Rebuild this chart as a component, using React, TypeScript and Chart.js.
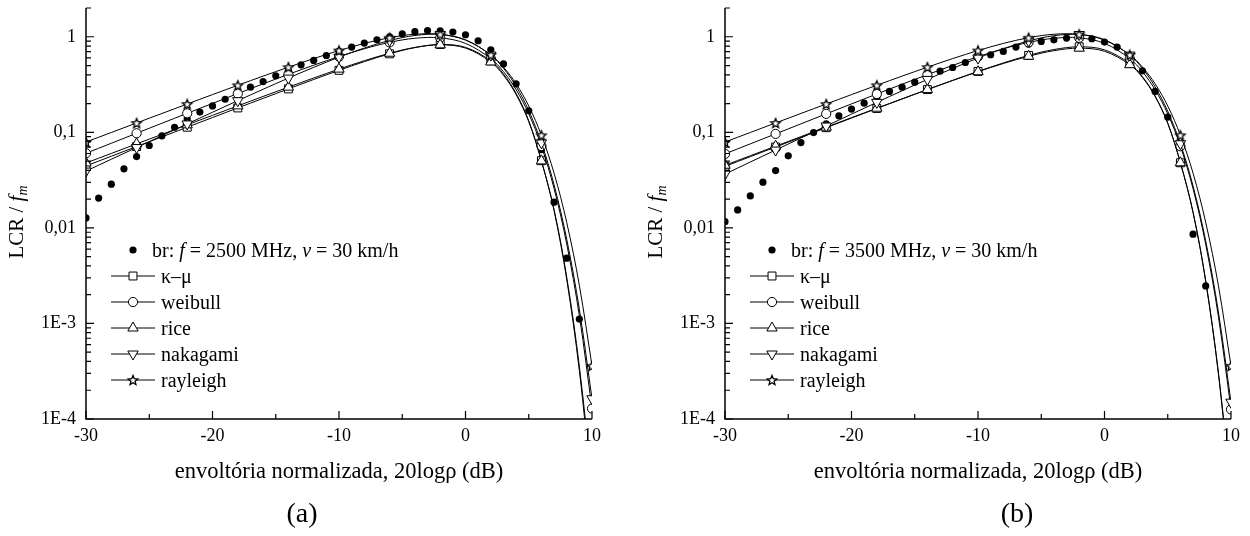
import React, { useEffect, useRef } from 'react';
import { Chart, registerables } from 'chart.js';

Chart.register(...registerables);

const FONT = '"Liberation Serif", "Times New Roman", serif';

// ---- measured data (black dots) ----
const measX2500 = [-30, -29, -28, -27, -26, -25, -24, -23, -22, -21, -20, -19, -18, -17, -16, -15, -14, -13, -12, -11, -10, -9, -8, -7, -6, -5, -4, -3, -2, -1, 0, 1, 2, 3, 4, 5, 6, 7, 8, 9];
const br2500 = [0.0127, 0.0205, 0.0287, 0.0415, 0.0558, 0.0728, 0.0919, 0.113, 0.138, 0.163, 0.189, 0.222, 0.256, 0.297, 0.34, 0.391, 0.44, 0.509, 0.565, 0.637, 0.71, 0.78, 0.859, 0.93, 1.0, 1.075, 1.13, 1.16, 1.155, 1.12, 1.05, 0.908, 0.73, 0.52, 0.322, 0.168, 0.066, 0.0186, 0.00482, 0.00111];

const measX3500 = [-30, -29, -28, -27, -26, -25, -24, -23, -22, -21, -20, -19, -18, -17, -16, -15, -14, -13, -12, -11, -10, -9, -8, -7, -6, -5, -4, -3, -2, -1, 0, 1, 2, 3, 4, 5, 6, 7, 8];
const br3500 = [0.0116, 0.0154, 0.0216, 0.0301, 0.0398, 0.0567, 0.0782, 0.0995, 0.123, 0.149, 0.175, 0.202, 0.233, 0.268, 0.297, 0.335, 0.378, 0.436, 0.477, 0.538, 0.6, 0.648, 0.702, 0.78, 0.838, 0.893, 0.93, 0.97, 0.98, 0.953, 0.88, 0.78, 0.63, 0.44, 0.268, 0.144, 0.0476, 0.0086, 0.00247];

// ---- model curves ----
const modelX = [-30, -28, -26, -24, -22, -20, -18, -16, -14, -12, -10, -8, -6, -4, -2, 0, 2, 3, 4, 5, 6, 7, 8, 9, 10];
const markerX = [-30, -26, -22, -18, -14, -10, -6, -2, 2, 6, 10];

const kappaMu2500 = [0.0445, 0.0562, 0.071, 0.0896, 0.1131, 0.1427, 0.18, 0.2265, 0.2848, 0.3572, 0.4453, 0.549, 0.663, 0.77, 0.83, 0.775, 0.56, 0.408, 0.256, 0.132, 0.0505, 0.0152, 0.0029, 0.00032, 0.000017];
const weibull2500 = [0.0604, 0.0768, 0.0978, 0.1244, 0.1581, 0.2007, 0.2544, 0.3215, 0.4042, 0.5043, 0.621, 0.7491, 0.8736, 0.9645, 0.9745, 0.8525, 0.5904, 0.4316, 0.2801, 0.1563, 0.0719, 0.02587, 0.006814, 0.001205, 0.0001285];
const rice2500 = [0.04777, 0.06012, 0.07567, 0.09521, 0.1198, 0.1506, 0.1891, 0.2372, 0.297, 0.3703, 0.4587, 0.5615, 0.6725, 0.7733, 0.8237, 0.7617, 0.5447, 0.3958, 0.2486, 0.1293, 0.05023, 0.01555, 0.00306, 0.000356, 0.0000212];
const nakagami2500 = [0.0393, 0.0523, 0.0693, 0.0922, 0.1224, 0.1622, 0.2144, 0.2822, 0.3694, 0.4788, 0.6112, 0.7617, 0.9133, 1.031, 1.0571, 0.9299, 0.6426, 0.4682, 0.3027, 0.1685, 0.0777, 0.02824, 0.007618, 0.00141, 0.0001629];
const rayleighCurve = [0.0792, 0.0996, 0.1253, 0.1575, 0.1978, 0.2482, 0.3106, 0.3874, 0.4806, 0.5911, 0.7172, 0.8516, 0.9772, 1.0622, 1.0594, 0.9221, 0.6469, 0.4815, 0.3223, 0.1886, 0.0933, 0.03736, 0.01144, 0.002508, 0.00036];

const kappaMu3500 = [0.044, 0.0556, 0.0702, 0.0886, 0.1118, 0.141, 0.1776, 0.2232, 0.28, 0.35, 0.434, 0.532, 0.638, 0.735, 0.785, 0.73, 0.525, 0.383, 0.241, 0.125, 0.048, 0.0145, 0.00275, 0.0003, 0.000016];
const weibull3500 = [0.0595, 0.0757, 0.0963, 0.1226, 0.156, 0.1983, 0.2518, 0.3187, 0.4013, 0.5016, 0.619, 0.748, 0.873, 0.9645, 0.975, 0.853, 0.59, 0.431, 0.2795, 0.1558, 0.0716, 0.0257, 0.00675, 0.00119, 0.000126];
const rice3500 = [0.0452, 0.0569, 0.0716, 0.0901, 0.1133, 0.1424, 0.1788, 0.2241, 0.2802, 0.3487, 0.4307, 0.525, 0.625, 0.715, 0.76, 0.705, 0.51, 0.375, 0.237, 0.124, 0.048, 0.0146, 0.0028, 0.00031, 0.000017];
const nakagami3500 = [0.0365, 0.0489, 0.0652, 0.0872, 0.1163, 0.1549, 0.2058, 0.2722, 0.358, 0.4665, 0.599, 0.75, 0.904, 1.026, 1.056, 0.932, 0.643, 0.466, 0.3, 0.166, 0.076, 0.0274, 0.0073, 0.00133, 0.00015];

const modelNames = ['κ–μ', 'weibull', 'rice', 'nakagami', 'rayleigh'];

// ---- axes ----
const xTicks = [-30, -20, -10, 0, 10];
const xTickLabels = ['-30', '-20', '-10', '0', '10'];
const xMinorTicks = [-25, -15, -5, 5];
const yTicks = [1e-4, 1e-3, 1e-2, 1e-1, 1];
const yTickLabels = ['1E-4', '1E-3', '0,01', '0,1', '1'];
const yMin = 1e-4;
const yMax = 2;

const xTitle = 'envoltória normalizada, 20logρ (dB)';

type MarkerKind = 'rect' | 'circle' | 'triangle' | 'triangleDown' | 'star';
const markerKinds: MarkerKind[] = ['rect', 'circle', 'triangle', 'triangleDown', 'star'];
const markerRadius: Record<MarkerKind, number> = { rect: 5.6, circle: 4.6, triangle: 6, triangleDown: 6, star: 4.9 };

function starPath(g: CanvasRenderingContext2D, cx: number, cy: number, R: number, r: number) {
  g.beginPath();
  for (let k = 0; k < 10; k++) {
    const a = -Math.PI / 2 + (k * Math.PI) / 5;
    const rad = k % 2 === 0 ? R : r;
    const px = cx + Math.cos(a) * rad;
    const py = cy + Math.sin(a) * rad;
    if (k === 0) g.moveTo(px, py);
    else g.lineTo(px, py);
  }
  g.closePath();
}

let starImg: HTMLCanvasElement | null = null;
function getStar(): HTMLCanvasElement {
  if (starImg) return starImg;
  const R = markerRadius.star;
  const size = Math.ceil(R * 2 + 4);
  const c = document.createElement('canvas');
  c.width = size;
  c.height = size;
  const g = c.getContext('2d')!;
  starPath(g, size / 2, size / 2 + R * 0.1, R, R * 0.45);
  g.fillStyle = '#fff';
  g.fill();
  g.lineWidth = 1.35;
  g.lineJoin = 'miter';
  g.strokeStyle = '#000';
  g.stroke();
  starImg = c;
  return c;
}

function drawLegendMarker(ctx: CanvasRenderingContext2D, kind: MarkerKind, x: number, y: number) {
  const r = markerRadius[kind];
  ctx.save();
  ctx.fillStyle = '#fff';
  ctx.strokeStyle = '#000';
  ctx.lineWidth = 1;
  if (kind === 'star') {
    const img = getStar();
    ctx.drawImage(img, Math.round(x - img.width / 2), Math.round(y - img.height / 2));
    ctx.restore();
    return;
  }
  ctx.beginPath();
  if (kind === 'rect') {
    const s = r * Math.SQRT1_2;
    ctx.rect(x - s, y - s, 2 * s, 2 * s);
  } else if (kind === 'circle') {
    ctx.arc(x, y, r, 0, Math.PI * 2);
  } else {
    let rad = kind === 'triangle' ? 0 : Math.PI;
    for (let k = 0; k < 3; k++) {
      const px = x + Math.sin(rad) * r;
      const py = y - Math.cos(rad) * r;
      if (k === 0) ctx.moveTo(px, py);
      else ctx.lineTo(px, py);
      rad += (2 * Math.PI) / 3;
    }
    ctx.closePath();
  }
  ctx.fill();
  ctx.stroke();
  ctx.restore();
}

type Run = { t: string; italic?: boolean; size?: number; dy?: number };
function drawRuns(ctx: CanvasRenderingContext2D, runs: Run[], x: number, y: number, base: number, center: boolean) {
  const fontOf = (r: Run) => `${r.italic ? 'italic ' : ''}${r.size || base}px ${FONT}`;
  const widths = runs.map((r) => {
    ctx.font = fontOf(r);
    return ctx.measureText(r.t).width;
  });
  const total = widths.reduce((a, b) => a + b, 0);
  let cx = center ? x - total / 2 : x;
  ctx.textAlign = 'left';
  runs.forEach((r, i) => {
    ctx.font = fontOf(r);
    ctx.fillText(r.t, cx, y + (r.dy || 0));
    cx += widths[i];
  });
}

type PanelSpec = {
  id: string;
  axisLeft: number;
  padRight: number;
  freq: string;
  caption: string;
  captionX: number;
  measX: number[];
  meas: number[];
  models: number[][];
};

const panelA: PanelSpec = {
  id: 'a',
  axisLeft: 86,
  padRight: 33,
  freq: '2500',
  caption: '(a)',
  captionX: 302,
  measX: measX2500,
  meas: br2500,
  models: [kappaMu2500, weibull2500, rice2500, nakagami2500, rayleighCurve],
};

const panelB: PanelSpec = {
  id: 'b',
  axisLeft: 100,
  padRight: 19,
  freq: '3500',
  caption: '(b)',
  captionX: 392,
  measX: measX3500,
  meas: br3500,
  models: [kappaMu3500, weibull3500, rice3500, nakagami3500, rayleighCurve],
};

function decorPlugin(p: PanelSpec) {
  return {
    id: 'decor' + p.id,
    afterDraw(chart: any) {
      const ctx: CanvasRenderingContext2D = chart.ctx;
      const { left, right, top, bottom } = chart.chartArea;
      const xs = chart.scales.x;
      const ys = chart.scales.y;
      ctx.save();
      ctx.strokeStyle = '#000';
      ctx.fillStyle = '#000';
      // axis lines
      ctx.lineWidth = 1.5;
      ctx.beginPath();
      ctx.moveTo(left, top);
      ctx.lineTo(left, bottom);
      ctx.lineTo(right, bottom);
      ctx.stroke();
      // inward ticks
      ctx.lineWidth = 1.2;
      ctx.beginPath();
      xTicks.forEach((v) => {
        const px = xs.getPixelForValue(v);
        ctx.moveTo(px, bottom);
        ctx.lineTo(px, bottom - 8);
      });
      xMinorTicks.forEach((v) => {
        const px = xs.getPixelForValue(v);
        ctx.moveTo(px, bottom);
        ctx.lineTo(px, bottom - 5);
      });
      yTicks.forEach((v) => {
        const py = ys.getPixelForValue(v);
        ctx.moveTo(left, py);
        ctx.lineTo(left + 8, py);
      });
      yTicks.forEach((d) => {
        for (let k = 2; k <= 9; k++) {
          const v = d * k;
          if (v > yMax + 1e-9) break;
          const py = ys.getPixelForValue(v);
          ctx.moveTo(left, py);
          ctx.lineTo(left + 5, py);
        }
      });
      ctx.stroke();

      // legend
      const rowY0 = 250;
      const rowH = 26;
      ctx.fillStyle = '#000';
      ctx.beginPath();
      ctx.arc(left + 47, rowY0, 3.6, 0, Math.PI * 2);
      ctx.fill();
      ctx.textBaseline = 'alphabetic';
      drawRuns(
        ctx,
        [
          { t: 'br: ' },
          { t: 'f', italic: true },
          { t: ' = ' + p.freq + ' MHz, ' },
          { t: 'v', italic: true },
          { t: ' = 30 km/h' },
        ],
        left + 66,
        rowY0 + 6.5,
        20,
        false
      );
      modelNames.forEach((name, i) => {
        const y = rowY0 + rowH * (i + 1);
        ctx.strokeStyle = '#000';
        ctx.lineWidth = 1;
        ctx.beginPath();
        ctx.moveTo(left + 25, y);
        ctx.lineTo(left + 69, y);
        ctx.stroke();
        drawLegendMarker(ctx, markerKinds[i], left + 47, y);
        ctx.fillStyle = '#000';
        ctx.font = `20px ${FONT}`;
        ctx.textAlign = 'left';
        ctx.fillText(name, left + 75, y + 7);
      });

      // x title
      ctx.fillStyle = '#000';
      ctx.textBaseline = 'alphabetic';
      ctx.font = `22.5px ${FONT}`;
      ctx.textAlign = 'center';
      ctx.fillText(xTitle, (left + right) / 2, 478);

      // y title (rotated)
      ctx.save();
      ctx.translate(left - 63, 222);
      ctx.rotate(-Math.PI / 2);
      drawRuns(
        ctx,
        [{ t: 'LCR / ' }, { t: 'f', italic: true }, { t: 'm', italic: true, size: 14, dy: 4 }],
        0,
        0,
        21,
        true
      );
      ctx.restore();

      // caption
      ctx.font = `28px ${FONT}`;
      ctx.textAlign = 'center';
      ctx.fillText(p.caption, p.captionX, 522);
      ctx.restore();
    },
  };
}

function buildConfig(p: PanelSpec): any {
  const markerSet = new Set(markerX);
  const datasets: any[] = [
    {
      label: 'br: f = ' + p.freq + ' MHz, v = 30 km/h',
      data: p.measX.map((x, i) => ({ x, y: p.meas[i] })),
      showLine: false,
      pointRadius: 3.6,
      pointBackgroundColor: '#000',
      pointBorderColor: '#000',
      pointBorderWidth: 0,
      clip: 0,
      order: 10,
    },
  ];
  p.models.forEach((vals, j) => {
    const kind = markerKinds[j];
    const r = markerRadius[kind];
    const style =
      kind === 'star' ? getStar() : kind === 'triangleDown' ? 'triangle' : kind;
    datasets.push({
      label: modelNames[j],
      data: modelX.map((x, i) => ({ x, y: vals[i] })),
      borderColor: '#000',
      borderWidth: 1,
      tension: 0.35,
      fill: false,
      pointStyle: style,
      pointRotation: kind === 'triangleDown' ? 180 : 0,
      pointRadius: (ctx: any) => (ctx.raw && markerSet.has(ctx.raw.x) ? r : 0),
      pointBackgroundColor: '#fff',
      pointBorderColor: '#000',
      pointBorderWidth: 1,
      clip: 0,
      order: 5 - j,
    });
  });

  return {
    type: 'line',
    data: { datasets },
    plugins: [decorPlugin(p)],
    options: {
      responsive: false,
      animation: false,
      events: [],
      layout: { padding: { left: 0, right: p.padRight, top: 8, bottom: 87 } },
      plugins: { legend: { display: false }, tooltip: { enabled: false }, title: { display: false } },
      scales: {
        x: {
          type: 'linear',
          min: -30,
          max: 10,
          afterBuildTicks: (s: any) => {
            s.ticks = xTicks.map((v) => ({ value: v }));
          },
          afterFit: (s: any) => {
            s.height = 30;
            s.paddingLeft = 0;
            s.paddingRight = 0;
          },
          grid: { display: false, drawTicks: false },
          border: { display: false },
          ticks: {
            autoSkip: false,
            maxRotation: 0,
            padding: 6,
            color: '#000',
            font: { family: FONT, size: 18 },
            callback: (_v: any, i: number) => xTickLabels[i],
          },
        },
        y: {
          type: 'logarithmic',
          min: yMin,
          max: yMax,
          afterBuildTicks: (s: any) => {
            s.ticks = yTicks.map((v) => ({ value: v }));
          },
          afterFit: (s: any) => {
            s.width = p.axisLeft;
            s.paddingTop = 0;
            s.paddingBottom = 0;
          },
          grid: { display: false, drawTicks: false },
          border: { display: false },
          ticks: {
            autoSkip: false,
            padding: 10,
            color: '#000',
            font: { family: FONT, size: 18 },
            callback: (_v: any, i: number) => yTickLabels[i],
          },
        },
      },
    },
  };
}

function Panel({ spec, left }: { spec: PanelSpec; left: number }) {
  const ref = useRef<HTMLCanvasElement>(null);
  useEffect(() => {
    const chart = new Chart(ref.current as HTMLCanvasElement, buildConfig(spec));
    return () => chart.destroy();
  }, [spec]);
  return (
    <canvas
      ref={ref}
      width={625}
      height={536}
      style={{ position: 'absolute', left, top: 0, width: 625, height: 536 }}
    />
  );
}

export default function App() {
  return (
    <div
      style={{
        position: 'absolute',
        left: 0,
        top: 0,
        width: 1250,
        height: 536,
        background: '#fff',
        overflow: 'hidden',
      }}
    >
      <Panel spec={panelA} left={0} />
      <Panel spec={panelB} left={625} />
    </div>
  );
}
